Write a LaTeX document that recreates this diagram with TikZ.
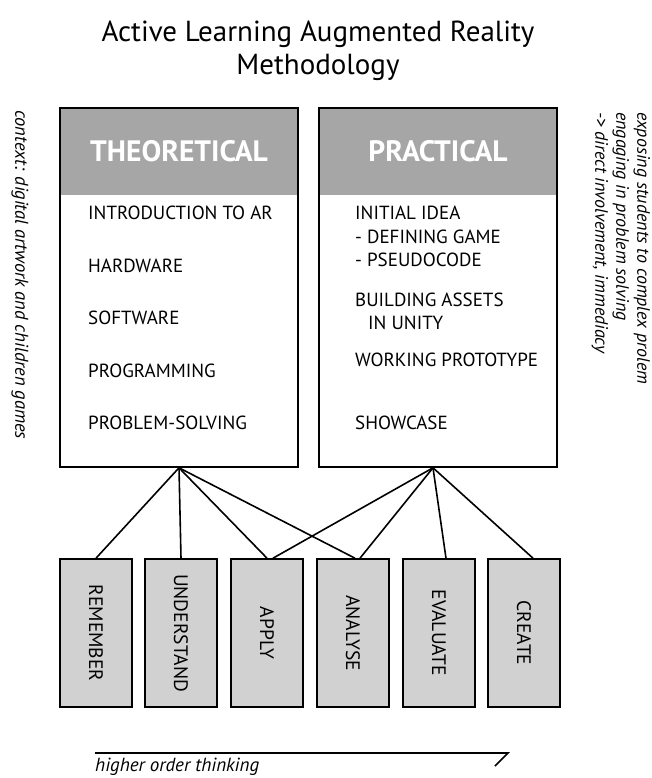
\documentclass[tikz,border=0pt]{standalone}
\usepackage{fontspec}
\setmainfont{PT Sans}
\usepackage{tikz}
\usetikzlibrary{calc}
\definecolor{headgray}{HTML}{A6A6A6}
\definecolor{levelgray}{HTML}{D1D1D1}
\newcommand{\vtext}[1]{\rotatebox{-90}{#1}}

\begin{document}
\begin{tikzpicture}[x=1pt,y=-1pt]
\tikzstyle{frame}=[rectangle,draw,line width=1.6pt,minimum width=238pt,minimum height=359pt]
\tikzstyle{head}=[rectangle,fill=headgray,minimum width=238pt,minimum height=87pt,text=white,font=\fontsize{29.5}{32}\selectfont\bfseries]
\tikzstyle{item}=[anchor=west,inner sep=0pt,font=\fontsize{19}{21}\selectfont]
\tikzstyle{level}=[rectangle,draw,fill=levelgray,line width=1.6pt,minimum width=72pt,minimum height=148pt,font=\fontsize{19.5}{21}\selectfont]
\tikzstyle{side}=[rotate=-90,anchor=west,inner sep=0pt,font=\fontsize{18.5}{21}\selectfont\itshape]
\tikzstyle{link}=[line width=1.6pt]
\useasboundingbox (0,0) rectangle (651,778);
\node (title) [align=center,font=\fontsize{29}{33}\selectfont] at (318,51) {Active Learning Augmented Reality\\Methodology};
% the two blocks
\node [head] (theohead) at (179,151.5) {THEORETICAL};
\node [head] (prachead) at (438,151.5) {PRACTICAL};
\node [frame] (theo) at (179,287.5) {};
\node [frame] (prac) at (438,287.5) {};
\node [item] (t1) at (88,213) {INTRODUCTION TO AR};
\node [item] (t2) at (88,266) {HARDWARE};
\node [item] (t3) at (88,318) {SOFTWARE};
\node [item] (t4) at (88,371) {PROGRAMMING};
\node [item] (t5) at (88,423) {PROBLEM-SOLVING};
\node [item] (p1) at (355,213) {INITIAL IDEA};
\node [item] (p2) at (355,237) {- DEFINING GAME};
\node [item] (p3) at (355,260) {- PSEUDOCODE};
\node [item] (p4) at (355,300) {BUILDING ASSETS};
\node [item] (p5) at (368,323) {IN UNITY};
\node [item] (p6) at (355,360) {WORKING PROTOTYPE};
\node [item] (p7) at (355,423) {SHOWCASE};
% side notes
\node [side] (context) at (20,110) {context: digital artwork and children games};
\node [side,align=left,font=\fontsize{18}{21}\selectfont\itshape] (aims) at (621,112) {exposing students to complex prolem\\engaging in problem solving\\-> direct involvement, immediacy};
% levels
\node [level] (rem) at (96,633) {\vtext{REMEMBER}};
\node [level] (und) at (181,633) {\vtext{UNDERSTAND}};
\node [level] (app) at (267,633) {\vtext{APPLY}};
\node [level] (ana) at (353,633) {\vtext{ANALYSE}};
\node [level] (eva) at (439,633) {\vtext{EVALUATE}};
\node [level] (cre) at (524,633) {\vtext{CREATE}};
\draw [link] (theo.south) -- (rem.north);
\draw [link] (theo.south) -- (und.north);
\draw [link] (theo.south) -- (app.north);
\draw [link] (theo.south) -- ([xshift=2pt]ana.north);
\draw [link] ([xshift=-5pt]prac.south) -- ([xshift=6pt]app.north);
\draw [link] ([xshift=-5pt]prac.south) -- ([xshift=7pt]ana.north);
\draw [link] ([xshift=-5pt]prac.south) -- ([xshift=7pt]eva.north);
\draw [link] ([xshift=-5pt]prac.south) -- ([xshift=9pt]cre.north);
% thinking scale
\coordinate (hstart) at (95,753);
\coordinate (hend) at (508,753);
\coordinate (htick) at (495,766);
\draw [link] (hstart) -- (hend) -- (htick);
\node [anchor=base west,inner sep=0pt,font=\fontsize{19}{21}\selectfont\itshape] (hot) at (95,771) {higher order thinking};
\end{tikzpicture}
\end{document}
